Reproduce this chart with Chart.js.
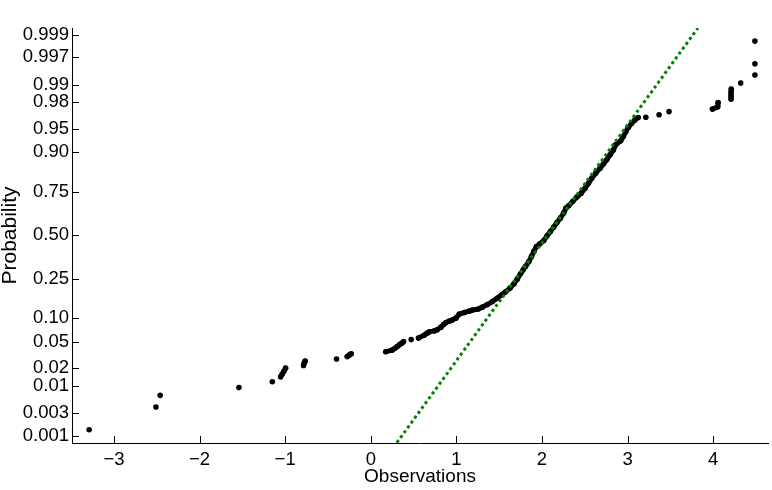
<!DOCTYPE html>
<html>
<head>
<meta charset="utf-8">
<script src="https://cdn.jsdelivr.net/npm/chart.js@4.4.1/dist/chart.umd.min.js"></script>
<style>
html, body { margin: 0; padding: 0; background: #fff; }
</style>
</head>
<body>
<canvas id="my_chart" width="772" height="490"></canvas>
<script>
// sorted observations and their probability
const observations = [
    -3.29, -2.51, -2.46, -1.54, -1.15, -1.053, -1.034, -1.015, -0.995,
    -0.786, -0.778, -0.767, -0.40, -0.275, -0.252, -0.229,
    0.174, 0.247, 0.279, 0.309, 0.337, 0.364, 0.383, 0.472, 0.557, 0.627,
    0.657, 0.685, 0.743, 0.774, 0.820, 0.851, 0.878, 0.918, 0.956, 0.994,
    1.034, 1.092, 1.150, 1.188, 1.254, 1.304, 1.362, 1.420, 1.479, 1.528,
    1.575, 1.626, 1.672, 1.711, 1.749, 1.780, 1.807, 1.847, 1.877, 1.904,
    1.935, 1.974, 2.021, 2.059, 2.098, 2.137, 2.175, 2.214, 2.253, 2.280,
    2.311, 2.358, 2.408, 2.458, 2.504, 2.544, 2.582, 2.628, 2.678, 2.718,
    2.756, 2.795, 2.834, 2.861, 2.919, 2.950, 2.980, 3.008, 3.047, 3.085,
    3.124, 3.213, 3.368, 3.484, 3.991, 4.053, 4.057, 4.208, 4.208, 4.208,
    4.211, 4.321, 4.487, 4.487, 4.487
];
const probabilities = [
    0.00135, 0.00403, 0.00676, 0.00939, 0.0119, 0.0145, 0.0161, 0.0180, 0.0202,
    0.0223, 0.0243, 0.0261, 0.0281, 0.0307, 0.0322, 0.0337,
    0.0361, 0.0382, 0.0403, 0.0431, 0.0460, 0.0481, 0.0506, 0.0539, 0.0564, 0.0618,
    0.0656, 0.0682, 0.0702, 0.0724, 0.0782, 0.0844, 0.0891, 0.0928, 0.0961, 0.1006,
    0.1120, 0.1168, 0.1210, 0.1243, 0.1274, 0.1339, 0.1428, 0.1534, 0.1663, 0.1793,
    0.1916, 0.2075, 0.2272, 0.2495, 0.2763, 0.2974, 0.3153, 0.3431, 0.3718, 0.4013,
    0.4313, 0.4479, 0.4681, 0.4968, 0.5235, 0.5505, 0.5785, 0.6045, 0.6342, 0.6628,
    0.6754, 0.6992, 0.7224, 0.7425, 0.7667, 0.7899, 0.8114, 0.8315, 0.8501, 0.8650,
    0.8780, 0.8929, 0.9064, 0.9188, 0.9276, 0.9364, 0.9454, 0.9519, 0.9583, 0.9626,
    0.9655, 0.9659, 0.9686, 0.9719, 0.9743, 0.9763, 0.9798, 0.9824, 0.9843, 0.9862,
    0.9880, 0.9906, 0.9933, 0.99594, 0.99864
];

// fitted normal reference line (dotted green), end points
const refLineX = [0.305, 3.821];
const refLineP = [0.000687, 0.999313];

const probLimits = [0.000675, 0.999313];
const obsLimits = [-3.49, 4.64];

const probTicks = [0.001, 0.003, 0.01, 0.02, 0.05, 0.10, 0.25, 0.50, 0.75, 0.90, 0.95, 0.98, 0.99, 0.997, 0.999];
const probTickLabels = ['0.001', '0.003', '0.01', '0.02', '0.05', '0.10', '0.25', '0.50', '0.75', '0.90', '0.95', '0.98', '0.99', '0.997', '0.999'];
const obsTicks = [-3, -2, -1, 0, 1, 2, 3, 4];
const obsTickLabels = ['\u22123', '\u22122', '\u22121', '0', '1', '2', '3', '4'];

// inverse of the standard normal cdf (Acklam), used as the y-scale transform
function norminv(p) {
    const a = [-3.969683028665376e+01, 2.209460984245205e+02, -2.759285104469687e+02, 1.383577518672690e+02, -3.066479806614716e+01, 2.506628277459239e+00];
    const b = [-5.447609879822406e+01, 1.615858368580409e+02, -1.556989798598866e+02, 6.680131188771972e+01, -1.328068155288572e+01];
    const c = [-7.784894002430293e-03, -3.223964580411365e-01, -2.400758277161838e+00, -2.549732539343734e+00, 4.374664141464968e+00, 2.938163982698783e+00];
    const d = [7.784695709041462e-03, 3.224671290700398e-01, 2.445134137142996e+00, 3.754408661907416e+00];
    const pl = 0.02425;
    let q, r;
    if (p < pl) {
        q = Math.sqrt(-2 * Math.log(p));
        return (((((c[0] * q + c[1]) * q + c[2]) * q + c[3]) * q + c[4]) * q + c[5]) / ((((d[0] * q + d[1]) * q + d[2]) * q + d[3]) * q + 1);
    }
    if (p > 1 - pl) {
        q = Math.sqrt(-2 * Math.log(1 - p));
        return -(((((c[0] * q + c[1]) * q + c[2]) * q + c[3]) * q + c[4]) * q + c[5]) / ((((d[0] * q + d[1]) * q + d[2]) * q + d[3]) * q + 1);
    }
    q = p - 0.5;
    r = q * q;
    return (((((a[0] * r + a[1]) * r + a[2]) * r + a[3]) * r + a[4]) * r + a[5]) * q / (((((b[0] * r + b[1]) * r + b[2]) * r + b[3]) * r + b[4]) * r + 1);
}

const FONT = '"Liberation Sans", Arial, Helvetica, sans-serif';

// ticks pointing into the plot, like the original
const inwardTicks = {
    id: 'inwardTicks',
    afterDatasetsDraw(chart) {
        const { ctx, chartArea, scales: { x, y } } = chart;
        ctx.save();
        ctx.strokeStyle = '#000';
        ctx.lineWidth = 1;
        ctx.beginPath();
        x.ticks.forEach((t) => {
            const px = Math.round(x.getPixelForValue(t.value)) + 0.5;
            ctx.moveTo(px, chartArea.bottom);
            ctx.lineTo(px, chartArea.bottom - 7);
        });
        y.ticks.forEach((t) => {
            const py = Math.round(y.getPixelForValue(t.value)) + 0.5;
            ctx.moveTo(chartArea.left, py);
            ctx.lineTo(chartArea.left + 7, py);
        });
        ctx.stroke();
        ctx.restore();
    }
};

const points = observations.map((v, i) => ({ x: v, y: norminv(probabilities[i]) }));
const refLine = refLineX.map((v, i) => ({ x: v, y: norminv(refLineP[i]) }));

const config = {
    type: 'scatter',
    data: {
        datasets: [
            {
                data: refLine,
                showLine: true,
                borderColor: 'rgb(0,128,0)',
                borderWidth: 3,
                borderDash: [3, 3],
                pointRadius: 0,
                order: 0
            },
            {
                data: points,
                showLine: true,
                borderWidth: 5,
                borderCapStyle: 'round',
                borderJoinStyle: 'round',
                segment: {
                    borderColor: (ctx) => Math.hypot(ctx.p1.x - ctx.p0.x, ctx.p1.y - ctx.p0.y) < 7 ? '#000' : 'rgba(0,0,0,0)'
                },
                pointRadius: 2.8,
                pointBorderWidth: 0,
                pointBackgroundColor: '#000',
                order: 1
            }
        ]
    },
    options: {
        responsive: false,
        animation: false,
        events: [],
        layout: { padding: { top: 28, right: 0, bottom: 0, left: 0 } },
        scales: {
            x: {
                type: 'linear',
                min: obsLimits[0],
                max: obsLimits[1],
                afterBuildTicks: (s) => { s.ticks = obsTicks.map((v) => ({ value: v })); },
                afterFit: (s) => { s.height = 47; },
                grid: { display: false, drawTicks: false },
                border: { display: true, color: '#000', width: 1 },
                ticks: {
                    autoSkip: false,
                    maxRotation: 0,
                    padding: 6,
                    color: '#000',
                    font: { family: FONT, size: 18.5 },
                    callback: (v, i) => obsTickLabels[i]
                },
                title: {
                    display: true,
                    text: 'Observations',
                    color: '#000',
                    font: { family: FONT, size: 19 },
                    padding: { top: 0, bottom: 2 }
                }
            },
            y: {
                type: 'linear',
                min: norminv(probLimits[0]),
                max: norminv(probLimits[1]),
                afterBuildTicks: (s) => { s.ticks = probTicks.map((p) => ({ value: norminv(p) })); },
                afterFit: (s) => { s.width = 72; },
                grid: { display: false, drawTicks: false },
                border: { display: true, color: '#000', width: 1 },
                ticks: {
                    autoSkip: false,
                    padding: 3,
                    color: '#000',
                    font: { family: FONT, size: 18.5 },
                    callback: (v, i) => probTickLabels[i]
                },
                title: {
                    display: true,
                    text: 'Probability',
                    color: '#000',
                    font: { family: FONT, size: 21 },
                    padding: { top: -2, bottom: 0 }
                }
            }
        },
        plugins: {
            legend: { display: false },
            tooltip: { enabled: false }
        }
    },
    plugins: [inwardTicks]
};

const myChart = new Chart(document.getElementById('my_chart'), config);
</script>
</body>
</html>
